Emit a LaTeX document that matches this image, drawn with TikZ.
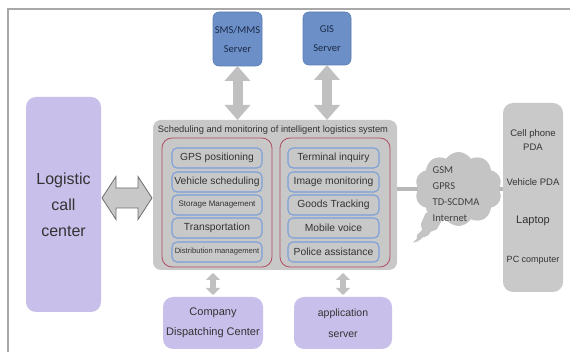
\documentclass[tikz,border=0pt]{standalone}
\usepackage{fontspec}
\setmainfont{Liberation Sans}
\newfontfamily\calfont{Carlito}
\usetikzlibrary{shapes.symbols,arrows.meta,calc}
\definecolor{lav}{HTML}{C8BFEA}
\definecolor{srvblue}{HTML}{6B8FC6}
\definecolor{srvedge}{HTML}{5A7DB2}
\definecolor{srvtxt}{HTML}{1C2A4A}
\definecolor{sysgray}{HTML}{C8C8C8}
\definecolor{devgray}{HTML}{C9C9C9}
\definecolor{redge}{HTML}{B04E60}
\definecolor{bedge}{HTML}{7BA0D8}
\definecolor{arrgray}{HTML}{C0C0C0}
\definecolor{harrfill}{HTML}{C8C8C8}
\definecolor{harredge}{HTML}{6E6E6E}
\definecolor{cloudgray}{HTML}{C4C4C4}
\definecolor{linkgray}{HTML}{B8B8B8}
\definecolor{framegray}{HTML}{A8A8A8}
\definecolor{txt}{HTML}{333333}
\begin{document}
\begin{tikzpicture}[x=1pt,y=-1pt,
  every node/.style={inner sep=0pt, outer sep=0pt, text=txt},
  srv/.style={rectangle, rounded corners=6pt, fill=srvblue, draw=srvedge, line width=0.6pt, align=center, text=srvtxt, font=\calfont\fontsize{10.5}{19}\selectfont},
  lavbox/.style={rectangle, rounded corners=10pt, fill=lav, align=center},
  sysbox/.style={rectangle, rounded corners=8pt, fill=sysgray},
  redbox/.style={rectangle, rounded corners=10pt, draw=redge, line width=0.8pt, minimum width=110pt, minimum height=129pt},
  inbox/.style={rectangle, rounded corners=5pt, fill=sysgray, draw=bedge, line width=1.1pt, minimum height=20pt, font=\fontsize{10.3}{12}\selectfont},
  varrow/.style={draw=arrgray, line width=10pt, {Triangle[length=15pt,width=25pt]}-{Triangle[length=15pt,width=25pt]}},
  sarrow/.style={draw=arrgray, line width=6pt, {Triangle[length=7pt,width=14pt]}-{Triangle[length=7pt,width=14pt]}},
  harrow/.style={fill=harrfill, draw=harredge, line width=0.8pt, line join=miter},
  link/.style={draw=linkgray, line width=4pt},
  devtxt/.style={align=center, font=\fontsize{9.5}{14}\selectfont}
]
\useasboundingbox (0,0) rectangle (570,352);
\fill[white] (0,0) rectangle (570,352);
\draw[framegray, line width=1.5pt] (8,352) -- (8,9) -- (570,9);

% servers
\node[srv, minimum width=49pt, minimum height=54pt] (sms) at (237.5,39) {SMS/MMS\\Server};
\node[srv, minimum width=48pt, minimum height=53pt] (gis) at (327,38.5) {GIS\\Server};

% logistic call center
\node[lavbox, minimum width=75pt, minimum height=215pt, font=\fontsize{16}{26}\selectfont] (lcc) at (63.5,204.5) {Logistic\\call\\center};

% system box
\node[sysbox, minimum width=244pt, minimum height=150pt] (sys) at (275,195) {};
\node[font=\fontsize{9.3}{10}\selectfont] (systitle) at (273,130) {Scheduling and monitoring of intelligent logistics system};
\node[redbox] (lred) at (217,202.5) {};
\node[redbox] (rred) at (335,202.5) {};

\node[inbox, minimum width=90pt] (gps) at (217,158) {GPS positioning};
\node[inbox, minimum width=90pt] (veh) at (217,182) {Vehicle scheduling};
\node[inbox, minimum width=90pt, font=\fontsize{8}{10}\selectfont] (sto) at (217,205) {Storage Management};
\node[inbox, minimum width=90pt] (tra) at (217,228) {Transportation};
\node[inbox, minimum width=90pt, font=\fontsize{7.6}{9}\selectfont] (dis) at (217,252) {Distribution management};

\node[inbox, minimum width=91pt] (ter) at (333.5,158) {Terminal inquiry};
\node[inbox, minimum width=91pt] (ima) at (333.5,182) {Image monitoring};
\node[inbox, minimum width=91pt] (goo) at (333.5,205) {Goods Tracking};
\node[inbox, minimum width=91pt] (mob) at (333.5,228) {Mobile voice};
\node[inbox, minimum width=91pt] (pol) at (333.5,252) {Police assistance};

% bottom boxes
\node[lavbox, minimum width=100pt, minimum height=52pt, font=\fontsize{11}{20}\selectfont] (cds) at (213,323) {Company\\Dispatching Center};
\node[lavbox, minimum width=98pt, minimum height=52pt, font=\fontsize{10.5}{21}\selectfont] (app) at (343,323) {application\\server};

% cloud with tail
\fill[cloudgray, rounded corners=2pt] (426,212) -- (420,226) -- (423,229) -- (416,236) -- (418,238) -- (412,243)
  -- (419,241) -- (424,236) -- (427,237) -- (432,230) -- (436,231) -- (442,220) -- cycle;
\node[cloud, cloud puffs=10, cloud puff arc=115, aspect=1.25, minimum width=87pt, minimum height=74pt, fill=cloudgray] (cl) at (458.5,189) {};
\node[align=left, text=black!75, font=\calfont\fontsize{10.5}{16}\selectfont] (ct) at (456,194) {GSM\\GPRS\\TD-SCDMA\\Internet};

% devices
\node[rectangle, rounded corners=10pt, fill=devgray, minimum width=60pt, minimum height=189pt] (dev) at (533,197.5) {};
\node[devtxt] (d1) at (533,140) {Cell phone\\PDA};
\node[devtxt] (d2) at (533,182) {Vehicle PDA};
\node[devtxt, font=\fontsize{11}{13}\selectfont] (d3) at (533,221) {Laptop};
\node[devtxt, font=\fontsize{9}{11}\selectfont] (d4) at (533,260) {PC computer};

% connectors
\draw[varrow] (sms.south) -- (sms.south |- sys.north);
\draw[varrow] (gis.south) -- (gis.south |- sys.north);
\draw[sarrow, shorten <=3pt, shorten >=2pt] (cds.north |- sys.south) -- (cds.north);
\draw[sarrow, shorten <=3pt, shorten >=2pt] (app.north |- sys.south) -- (app.north);
\coordinate (hl) at (lcc.east |- 0,198);
\draw[harrow] ($(hl)+(1,0)$) -- ++(14,-21.5) -- ++(0,11.5) -- ++(22,0) -- ++(0,-11.5) -- ++(14,21.5) -- ++(-14,21.5) -- ++(0,-11.5) -- ++(-22,0) -- ++(0,11.5) -- cycle;
\draw[link] (cl.west -| sys.east) -- (cl.west);
\draw[link] (cl.east) -- (cl.east -| dev.west);
\end{tikzpicture}
\end{document}
